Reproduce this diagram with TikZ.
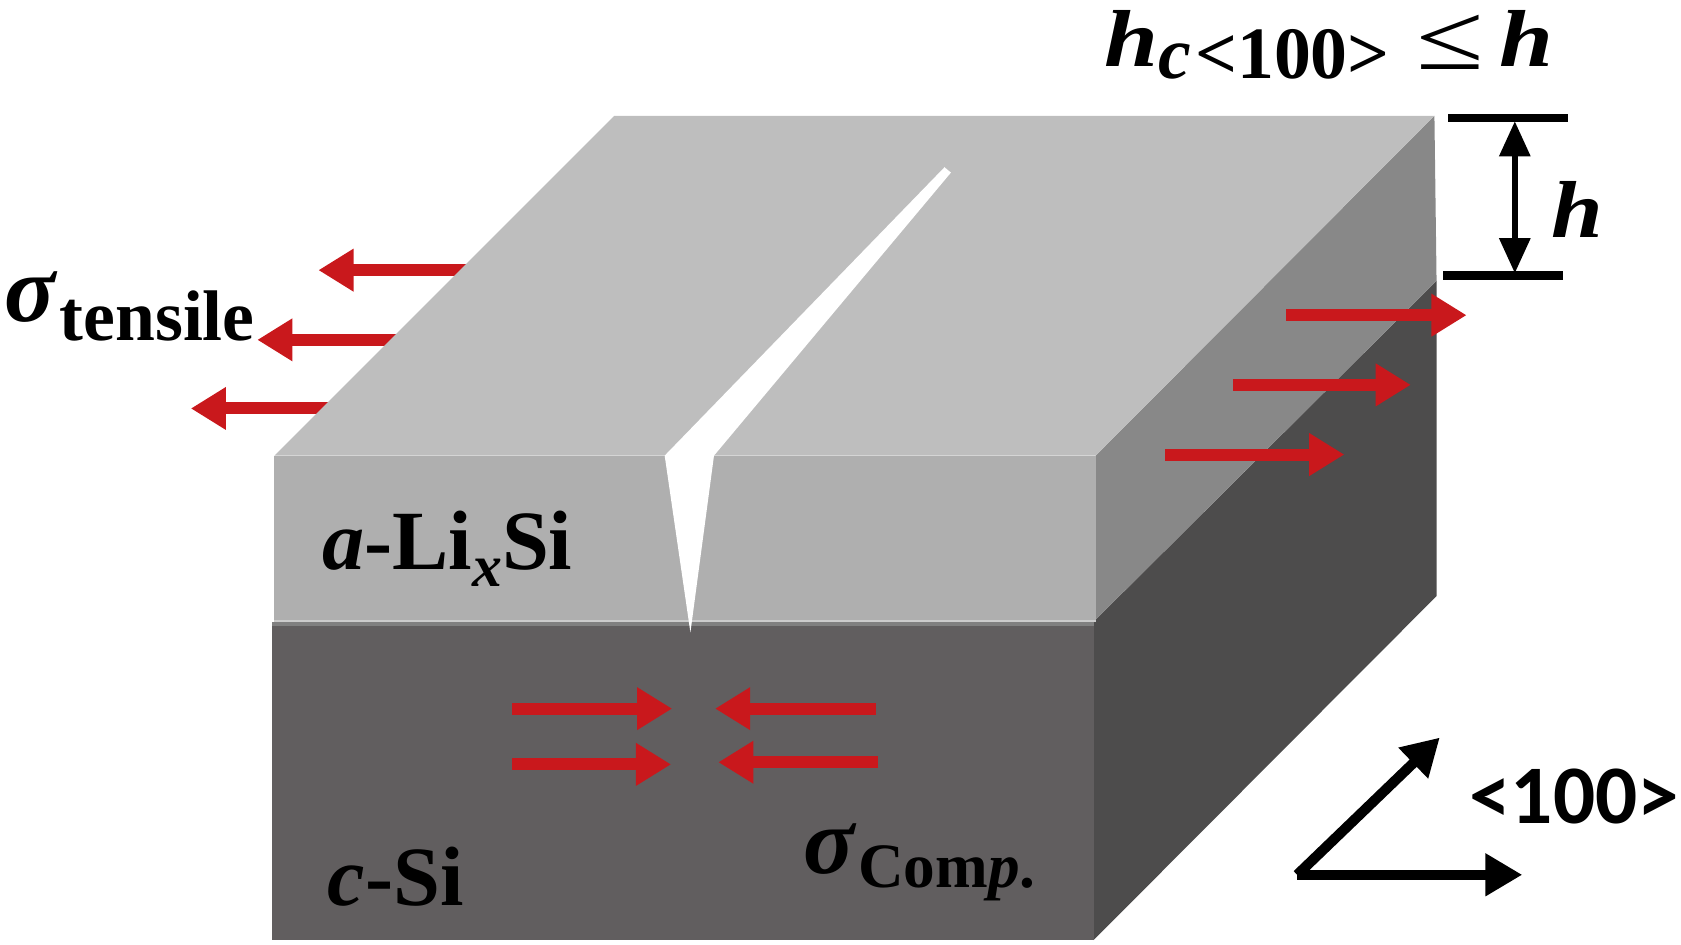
\documentclass[tikz,border=0pt]{standalone}
\usepackage{fontspec}
\usepackage{graphicx}
\setmainfont{Liberation Serif}
\newfontfamily\calfont{Carlito}
\usetikzlibrary{arrows.meta}
\definecolor{topgray}{HTML}{BEBEBE}
\definecolor{frontgray}{HTML}{AFAFAF}
\definecolor{sidegray}{HTML}{888888}
\definecolor{sifront}{HTML}{615E5F}
\definecolor{siside}{HTML}{4D4C4C}
\definecolor{stressred}{HTML}{C9181C}
\newcommand{\lowtext}[3]{\raisebox{#1}{\fontsize{#2}{#2}\selectfont #3}}
\newcommand{\widetext}[2]{\scalebox{#1}[1]{#2}}
\tikzset{
  redarrow/.style={stressred, line width=3.4pt, -{Triangle[length=10pt,width=11.5pt]}},
  blackarrow/.style={black, line width=2.9pt, -{Triangle[length=10.5pt,width=11.5pt]}},
  dimbar/.style={black, line width=2.4pt},
  dimarrow/.style={black, line width=1.8pt, {Triangle[length=10pt,width=8.5pt]}-{Triangle[length=10pt,width=8.5pt]}},
  textlabel/.style={inner sep=0pt, anchor=base west, font=\fontsize{24}{24}\selectfont\bfseries}
}
\begin{document}
\begin{tikzpicture}[x=0.01072cm,y=-0.01072cm]
\useasboundingbox (0,0) rectangle (1568,880.6);

% stress arrows behind the film
\draw[redarrow] (450,252) -- (297,252);
\draw[redarrow] (385,317) -- (240,317);
\draw[redarrow] (320,381) -- (178,381);

% block
\fill[siside] (1020,580) -- (1340,262) -- (1340,556) -- (1020,877) -- cycle;
\fill[sifront] (254,580) rectangle (1020,877);
\fill[sidegray] (1022,425) -- (1338,108) -- (1340,262) -- (1022,578) -- cycle;
\fill[frontgray] (256,425) rectangle (1022,578);
\fill[topgray] (573,108) -- (1338,108) -- (1022,425) -- (256,425) -- cycle;
\fill[black!20] (256,578) rectangle (1022,580);
\fill[black!50] (254,580) rectangle (1020,584);

% crack
\fill[white] (881,156) -- (887,161) -- (666,425) -- (644,590) -- (620,425) -- cycle;

% stress arrows
\draw[redarrow] (1200,294) -- (1368,294);
\draw[redarrow] (1150,359) -- (1316,359);
\draw[redarrow] (1087,424) -- (1254,424);
\draw[redarrow] (478,661) -- (627,661);
\draw[redarrow] (478,713) -- (626,713);
\draw[redarrow] (817,661) -- (667,661);
\draw[redarrow] (819,711) -- (670,711);

% film thickness
\coordinate (dimtop) at (1413,113);
\coordinate (dimbot) at (1413,255);
\draw[dimbar] (1351,110) -- (1463,110);
\draw[dimbar] (1346,257) -- (1458,257);
\draw[dimarrow] (dimtop) -- (dimbot);

% direction
\coordinate (dirbase) at (1210,816);
\coordinate (dirdiag) at (1343,688);
\coordinate (dirflat) at (1420,816);
\draw[blackarrow] (dirbase) -- (dirdiag);
\draw[blackarrow] (dirbase) -- (dirflat);

% labels
\node[textlabel] (critical) at (1030,62) {\itshape\widetext{1.2}{\lowtext{0pt}{23}{h}}\lowtext{-3.5pt}{21}{c\upshape\hspace{1pt}<100>}\hspace{7.5pt}\upshape\mdseries\widetext{1.3}{\lowtext{-1pt}{27}{≤}}\hspace{4.5pt}\bfseries\itshape\widetext{1.2}{\lowtext{0pt}{23}{h}}};
\node[textlabel] (thick) at (1447,222) {\itshape\widetext{1.15}{\lowtext{0pt}{23}{h}}};
\node[textlabel] (tensile) at (4,300) {\itshape\lowtext{0pt}{27}{σ}\upshape\lowtext{-5.5pt}{20.4}{\hspace{1pt}tensile}};
\node[textlabel] (film) at (300,531) {\itshape a\upshape -Li\lowtext{-5pt}{17}{\itshape x}Si};
\node[textlabel] (sub) at (305,845) {\itshape c\upshape -Si};
\node[textlabel] (comp) at (749,815) {\itshape\lowtext{0pt}{27}{σ}\upshape\lowtext{-4pt}{18}{\hspace{1pt}Com\itshape p\upshape .}};
\node[textlabel, font=\fontsize{23.7}{23.7}\selectfont\bfseries\calfont] (dir) at (1370,768) {<100>};
\end{tikzpicture}
\end{document}
